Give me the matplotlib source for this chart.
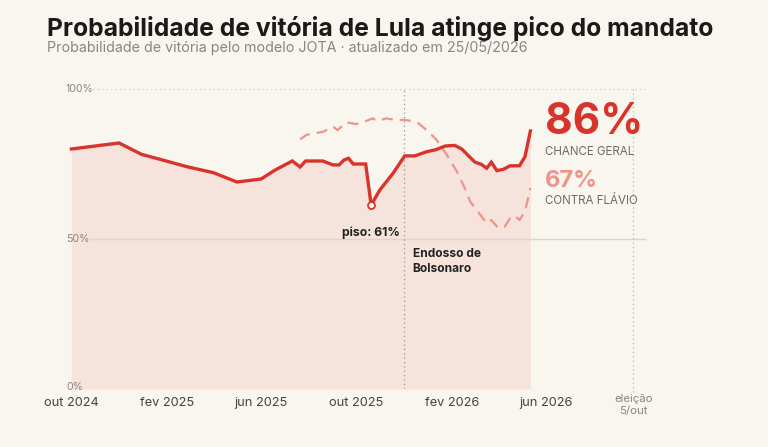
import matplotlib
matplotlib.use("Agg")
import matplotlib.pyplot as plt
import matplotlib.transforms as mtransforms
import numpy as np
import pandas as pd

# ---------------- data ----------------
lula_dates = ["2024-10-01", "2024-12-01", "2024-12-30", "2025-01-22", "2025-02-26",
              "2025-04-01", "2025-05-01", "2025-06-01", "2025-06-19", "2025-07-11",
              "2025-07-21", "2025-07-28", "2025-08-19", "2025-09-01", "2025-09-09",
              "2025-09-15", "2025-09-21", "2025-09-27", "2025-10-13", "2025-10-20",
              "2025-10-31", "2025-11-17", "2025-12-02", "2025-12-15", "2025-12-30",
              "2026-01-10", "2026-01-23", "2026-02-04", "2026-02-13", "2026-03-02",
              "2026-03-10", "2026-03-17", "2026-03-23", "2026-03-30", "2026-04-07",
              "2026-04-16", "2026-04-28", "2026-05-05", "2026-05-12"]
lula_values = [80, 82, 78.2, 76.6, 74.1,
               72.1, 69, 70, 73, 76,
               74, 76, 76, 74.7, 74.7,
               76.3, 76.9, 75, 75, 61.3,
               66.3, 71.9, 77.7, 77.7, 79.1,
               79.7, 81, 81.2, 80, 75.6,
               74.9, 73.6, 75.6, 72.8, 73.2,
               74.4, 74.4, 77.4, 86]

flavio_dates = ["2025-07-21", "2025-07-29", "2025-08-20", "2025-09-01", "2025-09-07",
                "2025-09-18", "2025-10-01", "2025-10-14", "2025-10-22", "2025-10-28",
                "2025-11-08", "2025-11-21", "2025-12-02", "2025-12-17", "2025-12-30",
                "2026-01-12", "2026-01-25", "2026-02-07", "2026-02-17", "2026-02-24",
                "2026-03-09", "2026-03-17", "2026-03-23", "2026-04-01", "2026-04-09",
                "2026-04-16", "2026-04-22", "2026-04-28", "2026-05-05", "2026-05-12"]
flavio_values = [83.2, 84.7, 85.8, 87.5, 86.3,
                 88.9, 88.3, 89.4, 90.2, 89.3,
                 90.2, 89.7, 89.7, 89.1, 86.3,
                 83, 78, 72.4, 66.9, 62.4,
                 58, 55.2, 56.3, 53.6, 54.1,
                 56.9, 57.8, 56.3, 59.1, 67]

tick_dates = ["2024-10-01", "2025-02-01", "2025-06-01", "2025-10-01", "2026-02-01", "2026-06-01"]
tick_labels = ["out 2024", "fev 2025", "jun 2025", "out 2025", "fev 2026", "jun 2026"]
y_ticks = [0, 50, 100]
y_tick_labels = ["0%", "50%", "100%"]

endosso_date = "2025-12-01"
eleicao_date = "2026-09-21"   # marker position as drawn in the reference
piso_value = 61
current_overall = 86
current_flavio = 67

# ---------------- style ----------------
BG = "#f9f5ef"
RED = "#d8342c"
PINK = "#ee948b"
FILL = "#f6e3dc"
FONT = ["Inter", "DejaVu Sans"]
plt.rcParams["font.family"] = FONT

W, H = 768, 447
fig = plt.figure(figsize=(W / 100, H / 100), dpi=100, facecolor=BG)

ax_l, ax_r, ax_top, ax_bot = 60, 650, 89, 389
ax = fig.add_axes([ax_l / W, (H - ax_bot) / H, (ax_r - ax_l) / W, (ax_bot - ax_top) / H])
ax.set_facecolor(BG)
for s in ax.spines.values():
    s.set_visible(False)

ld = pd.to_datetime(lula_dates)
fd = pd.to_datetime(flavio_dates)
start = pd.Timestamp("2024-10-01")
ax.set_xlim(start - pd.Timedelta(days=14.6), start + pd.Timedelta(days=741.2))
ax.set_ylim(0, 100)

# gridlines
ax.axhline(100, xmin=(93 - ax_l) / (ax_r - ax_l), xmax=(645 - ax_l) / (ax_r - ax_l),
           color="#c9c2ba", lw=0.8, ls=(0, (1, 3)), zorder=1)
ax.axhline(50, xmin=(90 - ax_l) / (ax_r - ax_l), xmax=(645 - ax_l) / (ax_r - ax_l),
           color="#e0d5cd", lw=1.0, zorder=2.5)

ytrans = mtransforms.blended_transform_factory(ax.transAxes, ax.transData)
for v, lab in zip(y_ticks, y_tick_labels):
    ax.text((66 - ax_l) / (ax_r - ax_l), v + (0.8 if v == 0 else 0), lab, transform=ytrans,
            ha="left", va="center", fontsize=7.6, color="#8a8580")

# fill + lines
ax.fill_between(ld, lula_values, 0, color=FILL, lw=0, zorder=2)
ax.plot(fd, flavio_values, color=PINK, lw=1.6, dashes=(5, 3.2), zorder=3,
        solid_capstyle="butt", dash_capstyle="butt")
ax.plot(ld, lula_values, color=RED, lw=2.4, zorder=4, solid_joinstyle="miter")

# piso marker
imin = int(np.argmin(lula_values))
ax.plot(ld[imin], lula_values[imin], marker="o", ms=5, mfc="white", mec=RED, mew=1.3, zorder=5)
ax.text(ld[imin] + pd.Timedelta(days=37), piso_value - 9.0, f"piso: {piso_value}%",
        ha="right", va="center", fontsize=8.8, fontweight="bold", color="#222222", zorder=6)

# vertical markers
ax.axvline(pd.Timestamp(endosso_date), color="#9a948e", lw=0.9, ls=(0, (1, 2.5)), zorder=3)
ax.axvline(pd.Timestamp(eleicao_date), ymin=-0.01, color="#b8b1aa", lw=0.9, ls=(0, (1, 2.5)),
           zorder=3, clip_on=False)
ax.text(pd.Timestamp(endosso_date) + pd.Timedelta(days=11), 42.5, "Endosso de\nBolsonaro",
        ha="left", va="center", fontsize=8.6, fontweight="bold", color="#222222",
        linespacing=1.4, zorder=6)

# x ticks
ax.set_xticks(pd.to_datetime(tick_dates))
ax.set_xticklabels(tick_labels, fontsize=9.2, color="#444444")
ax.tick_params(axis="x", length=0, pad=6)
ax.set_yticks([])
ax.text(pd.Timestamp(eleicao_date), -1.6, "eleição\n5/out", ha="center", va="top",
        fontsize=8.2, color="#8a8580", linespacing=1.25, clip_on=False)

# right annotations
tx = 545 / W
fig.text(tx, 1 - 122 / H, f"{current_overall}%", fontsize=30.5, fontweight="bold", color=RED,
         ha="left", va="center")
fig.text(tx, 1 - 152 / H, "CHANCE GERAL", fontsize=8.3, color="#6e6a66", ha="left", va="center")
fig.text(tx, 1 - 181 / H, f"{current_flavio}%", fontsize=17, fontweight="bold", color=PINK,
         ha="left", va="center")
fig.text(tx, 1 - 201 / H, "CONTRA FLÁVIO", fontsize=8.3, color="#6e6a66", ha="left", va="center")

# title
fig.text(47 / W, 1 - 28.5 / H, "Probabilidade de vitória de Lula atinge pico do mandato",
         fontsize=17.8, fontweight="bold", color="#1a1a1a", ha="left", va="center")
fig.text(47 / W, 1 - 48 / H, "Probabilidade de vitória pelo modelo JOTA · atualizado em 25/05/2026",
         fontsize=10.3, color="#8a8580", ha="left", va="center")

fig.savefig("out.png", dpi=100, facecolor=BG)
